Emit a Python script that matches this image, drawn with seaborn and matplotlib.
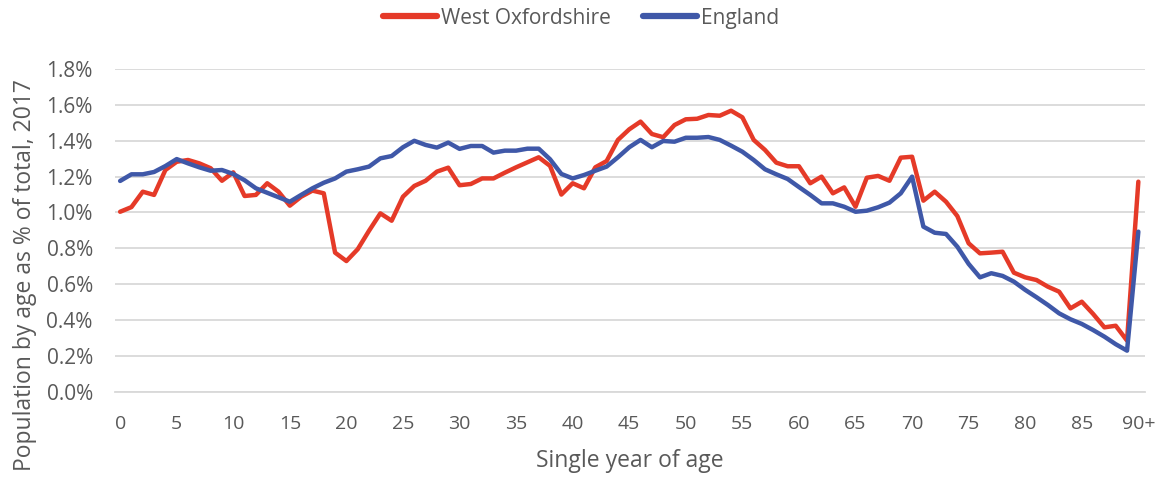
import matplotlib
matplotlib.use("Agg")
import matplotlib.pyplot as plt
import seaborn as sns
import pandas as pd
import numpy as np

# Single year of age, 0..90 (90 = "90+")
ages = list(range(0, 91))

west_oxfordshire = [
    1.004, 1.030, 1.116, 1.098, 1.237, 1.283, 1.293, 1.274, 1.247, 1.177,
    1.224, 1.092, 1.098, 1.163, 1.116, 1.038, 1.088, 1.122, 1.107, 0.776,
    0.729, 0.795, 0.898, 0.995, 0.954, 1.088, 1.148, 1.177, 1.228, 1.250,
    1.152, 1.159, 1.190, 1.190, 1.222, 1.252, 1.280, 1.308, 1.260, 1.100,
    1.163, 1.135, 1.252, 1.287, 1.405, 1.464, 1.507, 1.438, 1.420, 1.488,
    1.520, 1.523, 1.544, 1.540, 1.568, 1.531, 1.405, 1.349, 1.278, 1.258,
    1.258, 1.163, 1.200, 1.107, 1.140, 1.032, 1.194, 1.204, 1.177, 1.306,
    1.311, 1.066, 1.116, 1.060, 0.980, 0.828, 0.772, 0.776, 0.781, 0.664,
    0.638, 0.623, 0.586, 0.558, 0.465, 0.502, 0.434, 0.359, 0.368, 0.285,
    1.172,
]

england = [
    1.176, 1.213, 1.213, 1.226, 1.259, 1.298, 1.274, 1.252, 1.233, 1.237,
    1.215, 1.180, 1.135, 1.110, 1.085, 1.060, 1.098, 1.135, 1.166, 1.190,
    1.228, 1.241, 1.256, 1.302, 1.315, 1.364, 1.400, 1.377, 1.362, 1.390,
    1.355, 1.371, 1.371, 1.334, 1.345, 1.345, 1.356, 1.356, 1.297, 1.215,
    1.190, 1.209, 1.233, 1.256, 1.308, 1.364, 1.405, 1.364, 1.399, 1.395,
    1.417, 1.417, 1.421, 1.405, 1.373, 1.339, 1.293, 1.241, 1.213, 1.187,
    1.142, 1.098, 1.051, 1.051, 1.032, 1.004, 1.010, 1.029, 1.055, 1.107,
    1.200, 0.921, 0.887, 0.880, 0.809, 0.713, 0.638, 0.661, 0.646, 0.614,
    0.568, 0.527, 0.484, 0.437, 0.404, 0.378, 0.344, 0.307, 0.265, 0.229,
    0.893,
]

series_names = ["West Oxfordshire", "England"]
tick_ages = list(range(0, 91, 5))
tick_labels = [str(a) for a in tick_ages[:-1]] + ["90+"]
y_ticks = [0.0, 0.2, 0.4, 0.6, 0.8, 1.0, 1.2, 1.4, 1.6, 1.8]

df = pd.DataFrame({
    "age": ages * 2,
    "pct": west_oxfordshire + england,
    "area": [series_names[0]] * len(ages) + [series_names[1]] * len(ages),
})

sns.set_theme(style="white")
plt.rcParams["font.family"] = ["Open Sans", "DejaVu Sans"]

text_col = "#595959"
grid_col = "#D9D9D9"
palette = {"West Oxfordshire": "#E53A28", "England": "#3F58A8"}

fig = plt.figure(figsize=(11.62, 4.80), dpi=100)
ax = fig.add_axes([0.099, 0.184, 0.886, 0.672])

sns.lineplot(data=df, x="age", y="pct", hue="area", palette=palette,
             hue_order=series_names, linewidth=3.2, ax=ax,
             legend=False)
for ln in ax.get_lines():
    ln.set_solid_joinstyle("round")
    ln.set_solid_capstyle("round")

ax.set_xlim(-0.45, 90.55)
ax.set_ylim(0, 1.8)
ax.set_yticks(y_ticks)
ax.set_yticklabels([f"{v:.1f}%" for v in y_ticks])
ax.set_xticks(tick_ages)
ax.set_xticklabels(tick_labels)
ax.tick_params(axis="both", length=0, colors=text_col)
ax.tick_params(axis="y", pad=16, labelsize=15)
ax.tick_params(axis="x", pad=17, labelsize=14)

ax.yaxis.grid(True, color=grid_col, linewidth=1.3)
ax.xaxis.grid(False)
ax.set_axisbelow(True)
for s in ["top", "right", "left"]:
    ax.spines[s].set_visible(False)
ax.spines["bottom"].set_color(grid_col)
ax.spines["bottom"].set_linewidth(1.3)

ax.set_xlabel("Single year of age", fontsize=16.5, color=text_col, labelpad=11)
ax.set_ylabel("")
fig.text(0.0215, 0.426, "Population by age as % of total, 2017",
         rotation=90, ha="center", va="center", fontsize=16.5, color=text_col)

# Legend across the top
handles = [plt.Line2D([], [], color=palette[n], linewidth=4.5,
                      solid_capstyle="round") for n in series_names]
fig.legend(handles, series_names, loc="center", bbox_to_anchor=(0.5, 0.962),
           ncol=2, frameon=False, fontsize=15, handlelength=2.6,
           handletextpad=0.2, columnspacing=1.5, labelcolor=text_col)

fig.savefig("out.png", dpi=100)
